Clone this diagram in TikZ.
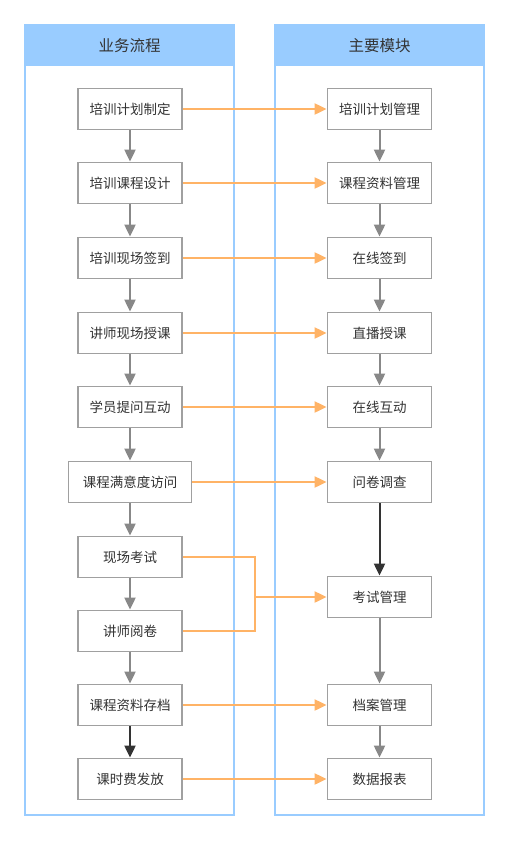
\documentclass[tikz,border=0pt]{standalone}
\usepackage{fontspec}
\setmainfont{Noto Sans CJK SC}
\usetikzlibrary{arrows.meta}
\definecolor{lane}{HTML}{99CCFF}
\definecolor{boxline}{HTML}{A0A0A0}
\definecolor{txt}{HTML}{333333}
\definecolor{flow}{HTML}{888888}
\definecolor{orng}{HTML}{FFB366}
\begin{document}
\begin{tikzpicture}[x=1pt,y=-1pt,
  stepbox/.style={draw=boxline,line width=1.8pt,fill=white,minimum width=104pt,minimum height=41pt,inner sep=0pt,font=\fontsize{13.5}{15}\selectfont,text=txt},
  widebox/.style={stepbox,minimum width=123pt},
  hdr/.style={font=\fontsize{15.5}{17}\selectfont,text=txt},
  garr/.style={draw=flow,line width=2pt,-{Triangle[length=12pt,width=11pt]}},
  darr/.style={draw=txt,line width=2pt,-{Triangle[length=12pt,width=11pt]}},
  oarr/.style={draw=orng,line width=2pt,-{Triangle[length=12pt,width=11pt]}},
  oline/.style={draw=orng,line width=2pt}]
\useasboundingbox (0,0) rectangle (509,841);
\fill[white] (0,0) rectangle (509,841);
% lanes
\draw[lane,line width=1.5pt] (25,25) rectangle (234,815);
\fill[lane] (25,25) rectangle (234,66);
\draw[lane,line width=1.5pt] (275,25) rectangle (484,815);
\fill[lane] (275,25) rectangle (484,66);
\node[hdr] (h1) at (129.5,45.5) {业务流程};
\node[hdr] (h2) at (379.5,45.5) {主要模块};
% left nodes
\node[stepbox] (l1) at (130,109) {培训计划制定};
\node[stepbox] (l2) at (130,183) {培训课程设计};
\node[stepbox] (l3) at (130,258) {培训现场签到};
\node[stepbox] (l4) at (130,333) {讲师现场授课};
\node[stepbox] (l5) at (130,407) {学员提问互动};
\node[widebox] (l6) at (130,482) {课程满意度访问};
\node[stepbox] (l7) at (130,557) {现场考试};
\node[stepbox] (l8) at (130,631) {讲师阅卷};
\node[stepbox] (l9) at (130,705) {课程资料存档};
\node[stepbox] (l10) at (130,779) {课时费发放};
% right nodes
\node[stepbox] (r1) at (379.5,109) {培训计划管理};
\node[stepbox] (r2) at (379.5,183) {课程资料管理};
\node[stepbox] (r3) at (379.5,258) {在线签到};
\node[stepbox] (r4) at (379.5,333) {直播授课};
\node[stepbox] (r5) at (379.5,407) {在线互动};
\node[stepbox] (r6) at (379.5,482) {问卷调查};
\node[stepbox] (r7) at (379.5,597) {考试管理};
\node[stepbox] (r8) at (379.5,705) {档案管理};
\node[stepbox] (r9) at (379.5,779) {数据报表};
% vertical flows
\foreach \a/\b in {l1/l2,l2/l3,l3/l4,l4/l5,l5/l6,l6/l7,l7/l8,l8/l9} \draw[garr] (\a) -- (\b);
\draw[darr] (l9) -- (l10);
\foreach \a/\b in {r1/r2,r2/r3,r3/r4,r4/r5,r5/r6,r7/r8,r8/r9} \draw[garr] (\a) -- (\b);
\draw[darr] (r6) -- (r7);
% horizontal
\draw[oarr] (l1) -- (r1);
\draw[oarr] (l2) -- (r2);
\draw[oarr] (l3) -- (r3);
\draw[oarr] (l4) -- (r4);
\draw[oarr] (l5) -- (r5);
\draw[oarr] (l6) -- (r6);
\coordinate (m) at (255,597);
\draw[oline] (l7.east) -| (m);
\draw[oline] (l8.east) -| (m);
\draw[oarr] (m) -- (r7);
\draw[oarr] (l9) -- (r8);
\draw[oarr] (l10) -- (r9);
\end{tikzpicture}
\end{document}
